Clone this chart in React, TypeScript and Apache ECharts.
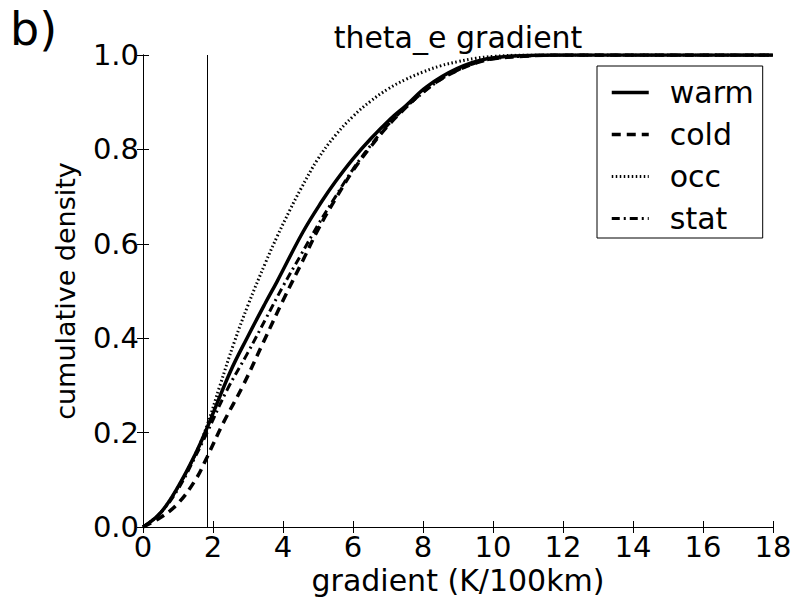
import React, { useEffect, useRef } from "react";
import * as echarts from "echarts";

const xTicks = [0, 2, 4, 6, 8, 10, 12, 14, 16, 18];
const yTicks = [0, 0.2, 0.4, 0.6, 0.8, 1.0];
const thresholdX = [1.83];

const warmX = [0, 0.5, 1, 1.5, 1.83, 2.5, 2.97, 3.5, 3.83, 4.57, 5.11, 5.5, 6, 6.5, 7.06, 7.5, 8.11, 8.97, 9.83, 11, 12, 18];
const warmY = [0, 0.03, 0.085, 0.155, 0.21, 0.33, 0.4, 0.475, 0.52, 0.625, 0.69, 0.732, 0.78, 0.822, 0.864, 0.892, 0.933, 0.971, 0.992, 0.999, 1, 1];

const coldX = [0, 0.5, 1, 1.5, 1.83, 2.29, 2.86, 3.43, 4, 4.57, 5, 5.5, 6, 6.5, 7, 7.5, 8, 8.5, 9, 9.5, 10, 11, 12, 18];
const coldY = [0, 0.02, 0.05, 0.1, 0.148, 0.22, 0.3, 0.39, 0.48, 0.565, 0.63, 0.695, 0.755, 0.805, 0.85, 0.888, 0.922, 0.948, 0.968, 0.983, 0.992, 0.998, 1, 1];

const occX = [0, 0.5, 1, 1.5, 1.83, 2.2, 2.6, 3, 3.5, 3.83, 4.2, 4.5, 5, 5.5, 6, 6.5, 7, 7.5, 8, 8.5, 9, 9.5, 10, 11, 18];
const occY = [0, 0.03, 0.085, 0.155, 0.215, 0.3, 0.39, 0.47, 0.56, 0.615, 0.672, 0.715, 0.78, 0.83, 0.87, 0.902, 0.928, 0.948, 0.964, 0.977, 0.986, 0.993, 0.997, 1, 1];

const statX = [0, 0.5, 1, 1.5, 1.83, 2.4, 3, 3.5, 4, 4.5, 5, 5.5, 6, 6.5, 7, 7.5, 8, 8.5, 9, 9.5, 10, 11, 12, 18];
const statY = [0, 0.03, 0.08, 0.15, 0.2, 0.29, 0.37, 0.44, 0.51, 0.575, 0.64, 0.7, 0.758, 0.808, 0.852, 0.889, 0.92, 0.948, 0.968, 0.983, 0.992, 0.998, 1, 1];

const FONT = "DejaVu Sans";

function pairs(xs: number[], ys: number[]) {
  return xs.map((x, i) => [x, ys[i]]);
}

export default function App() {
  const ref = useRef<HTMLDivElement>(null);
  useEffect(() => {
    if (!ref.current) return;
    const chart = echarts.init(ref.current, null, { renderer: "svg" });
    const axisCommon = {
      axisLine: { show: true, lineStyle: { color: "#000", width: 1 } },
      axisTick: { show: true, inside: true, length: 6, lineStyle: { color: "#000", width: 1 } },
      splitLine: { show: false },
    };
    const styles: Record<string, { width: number; type: any }> = {
      warm: { width: 3.5, type: "solid" },
      cold: { width: 3.5, type: [9, 6] },
      occ: { width: 3, type: [1.5, 2.5] },
      stat: { width: 3, type: [8, 4, 2, 4] },
    };
    const lineSeries = (name: string, xs: number[], ys: number[]) => ({
      name,
      type: "line",
      data: pairs(xs, ys),
      symbol: "none",
      showSymbol: false,
      smooth: 0.4,
      lineStyle: { color: "#000", width: styles[name].width, type: styles[name].type },
      itemStyle: { color: "#000" },
    });
    const series: any[] = [
      lineSeries("warm", warmX, warmY),
      lineSeries("cold", coldX, coldY),
      lineSeries("occ", occX, occY),
      lineSeries("stat", statX, statY),
    ];
    series[0].markLine = {
      silent: true,
      symbol: "none",
      label: { show: false },
      lineStyle: { color: "#000", width: 1, type: "solid" },
      data: thresholdX.map((x) => ({ xAxis: x })),
    };
    chart.setOption({
      animation: false,
      textStyle: { fontFamily: FONT },
      grid: { left: 143, top: 55, width: 630, height: 472, show: false },
      xAxis: [
        {
          type: "value",
          min: xTicks[0],
          max: xTicks[xTicks.length - 1],
          interval: 2,
          ...axisCommon,
          axisLabel: { color: "#000", fontSize: 29, fontFamily: FONT, margin: 5 },
          name: "gradient (K/100km)",
          nameLocation: "middle",
          nameGap: 38,
          nameTextStyle: { color: "#000", fontSize: 30, fontFamily: FONT, verticalAlign: "top" },
        },
        {
          type: "value",
          position: "top",
          min: xTicks[0],
          max: xTicks[xTicks.length - 1],
          interval: 2,
          ...axisCommon,
          axisLabel: { show: false },
        },
      ],
      yAxis: [
        {
          type: "value",
          min: yTicks[0],
          max: yTicks[yTicks.length - 1],
          interval: 0.2,
          ...axisCommon,
          axisLabel: {
            color: "#000",
            fontSize: 29,
            fontFamily: FONT,
            margin: 4,
            formatter: (v: number) => v.toFixed(1),
          },
          name: "cumulative density",
          nameLocation: "middle",
          nameGap: 64,
          nameTextStyle: { color: "#000", fontSize: 27, fontFamily: FONT },
        },
        {
          type: "value",
          position: "right",
          min: yTicks[0],
          max: yTicks[yTicks.length - 1],
          interval: 0.2,
          ...axisCommon,
          axisLabel: { show: false },
        },
      ],
      legend: {
        orient: "vertical",
        left: 597,
        top: 66,
        backgroundColor: "#fff",
        borderColor: "#000",
        borderWidth: 1,
        borderRadius: 0,
        padding: [11, 9, 4, 13],
        itemWidth: 37,
        itemHeight: 14,
        itemGap: 11,
        itemStyle: { color: "rgba(0,0,0,0)", borderColor: "rgba(0,0,0,0)", borderWidth: 0 },
        textStyle: { color: "#000", fontSize: 30, fontFamily: FONT, lineHeight: 31, padding: [0, 0, 0, 16] },
        data: ["warm", "cold", "occ", "stat"].map((n) => ({
          name: n,
          lineStyle: { color: "#000", width: styles[n].width, type: styles[n].type },
        })),
      },
      graphic: [
        {
          type: "text",
          left: 10,
          top: 6,
          style: { text: "b)", font: `46px "${FONT}"`, fill: "#000" },
        },
        {
          type: "text",
          x: 458,
          y: 37,
          style: {
            text: "theta_e gradient",
            font: `30px "${FONT}"`,
            fill: "#000",
            textAlign: "center",
            textVerticalAlign: "middle",
          },
        },
      ],
      series,
    });
    return () => chart.dispose();
  }, []);
  return (
    <div
      ref={ref}
      style={{ position: "absolute", left: 0, top: 0, width: 795, height: 601, background: "#fff" }}
    />
  );
}
